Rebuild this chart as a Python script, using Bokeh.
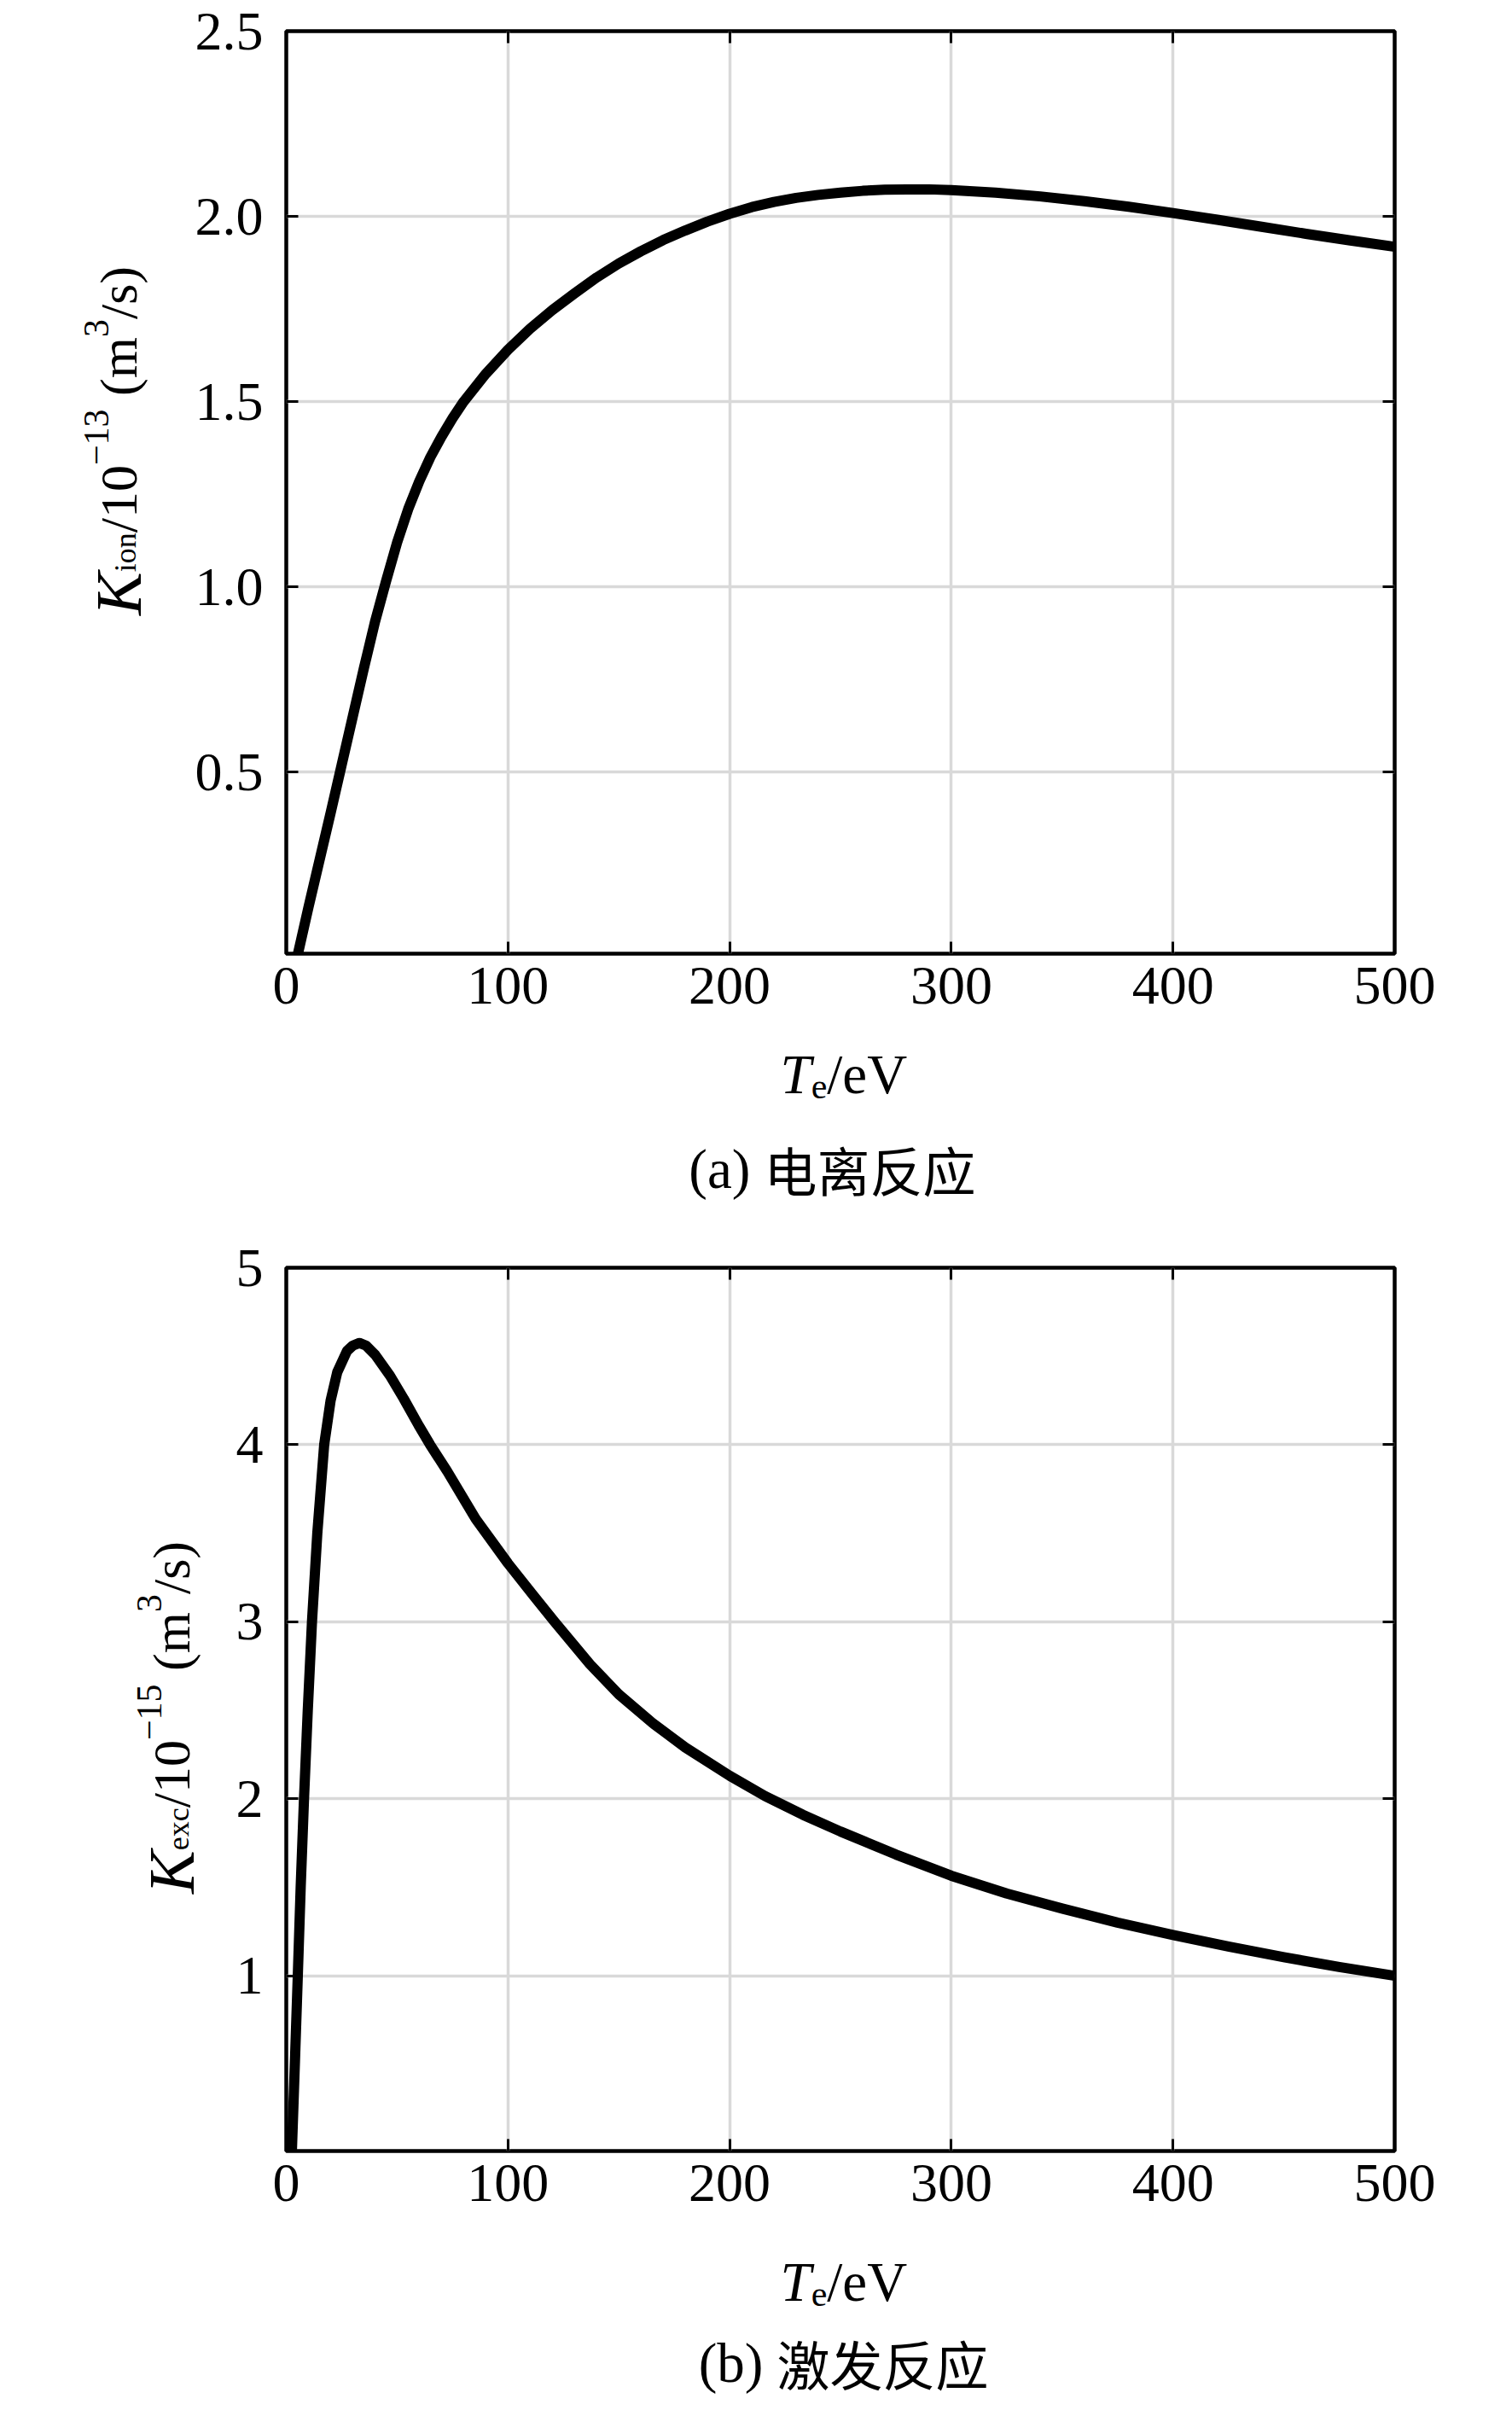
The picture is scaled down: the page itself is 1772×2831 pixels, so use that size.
import math
from bokeh.plotting import figure
from bokeh.models import Range1d, FixedTicker, LinearAxis, PrintfTickFormatter
from bokeh.layouts import column, row
from bokeh.core.properties import value
from bokeh.embed import file_html
from bokeh.resources import INLINE

# ---------------- data ----------------
te_ion = [4.9, 10, 15.3, 20, 25, 30, 35, 40, 45, 50, 55, 60, 65, 70, 75, 80, 90,
          100, 110, 120, 130, 140, 150, 160, 170, 180, 190, 200, 210, 220, 230,
          240, 250, 260, 270, 280, 290, 300, 320, 340, 360, 380, 400, 420, 440,
          460, 480, 500]
k_ion = [0.0, 0.135, 0.27, 0.39, 0.52, 0.65, 0.78, 0.905, 1.015, 1.12, 1.21,
         1.285, 1.35, 1.405, 1.455, 1.50, 1.575, 1.64, 1.697, 1.747, 1.792,
         1.835, 1.873, 1.906, 1.936, 1.962, 1.986, 2.007, 2.025, 2.039, 2.05,
         2.058, 2.064, 2.069, 2.072, 2.073, 2.073, 2.071, 2.064, 2.054, 2.041,
         2.026, 2.009, 1.991, 1.972, 1.953, 1.935, 1.918]

te_exc = [2.5, 4, 5.2, 6.5, 8, 9.7, 11.6, 14, 17.1, 20, 23, 27.4, 30, 33, 36,
          40, 46.8, 53, 59.7, 64.9, 72.6, 85.5, 100, 111.4, 121, 137, 150, 165,
          180, 200, 216, 233, 250, 275, 300, 325, 350, 375, 400, 425, 450, 475,
          500]
k_exc = [0.0, 0.55, 1.0, 1.5, 2.0, 2.5, 3.0, 3.5, 4.0, 4.25, 4.41, 4.53, 4.56,
         4.575, 4.56, 4.51, 4.39, 4.26, 4.11, 4.0, 3.85, 3.58, 3.33, 3.15, 3.0,
         2.76, 2.59, 2.43, 2.29, 2.13, 2.015, 1.91, 1.815, 1.685, 1.565, 1.465,
         1.38, 1.30, 1.23, 1.165, 1.105, 1.05, 1.0]

x_ticks = [0, 100, 200, 300, 400, 500]
ion_ticks = [0.5, 1.0, 1.5, 2.0, 2.5]
exc_ticks = [1, 2, 3, 4, 5]

caption_a = ("(a)", "电离反应")
caption_b = ("(b)", "激发反应")

SERIF = "Liberation Serif"
CJK = "Noto Sans CJK SC"

# Times / Liberation Serif advance widths (per 1000 em)
W = {' ': 250, '(': 333, ')': 333, '/': 278, '.': 250, 'a': 444, 'b': 500,
     'c': 444, 'e': 444, 'i': 278, 'm': 778, 'n': 500, 'o': 500, 's': 389,
     'x': 500, 'V': 722, '\u2212': 564, 'K': 667, 'T': 556}


def adv(s, size):
    return sum(W.get(c, 500) for c in s) * size / 1000.0


FRAME_W = 1299
RIGHT_B = 122
BOTTOM_B = 100
PAGE_L = 8
# measured drift of the alphabetic baseline of text glyphs (page px)
DROP = 29
ALONG = 40


def text_canvas(w, h):
    f = figure(frame_width=w, frame_height=h, min_border=0,
               x_range=Range1d(0, w), y_range=Range1d(0, h),
               output_backend="svg", toolbar_location=None,
               x_axis_location=None, y_axis_location=None)
    f.outline_line_color = None
    f.background_fill_color = "white"
    f.border_fill_color = "white"
    for g in f.grid:
        g.visible = False
    return f


def put(f, x, y, text, size, style="normal", font=SERIF, angle=0.0, align="left"):
    f.text(x=[x], y=[y], text=[text], angle=angle,
           text_font=value(font), text_font_size=value(f"{size}px"),
           text_font_style=style, text_color="black",
           text_align=align, text_baseline="alphabetic")


def main_panel(xs, ys, y0, y1, yticks, yfmt, left_b, top, fh):
    p = figure(frame_width=FRAME_W, frame_height=fh,
               min_border_left=left_b, min_border_right=RIGHT_B,
               min_border_top=top, min_border_bottom=BOTTOM_B,
               x_range=Range1d(0, 500), y_range=Range1d(y0, y1),
               output_backend="svg", toolbar_location=None,
               x_axis_location=None, y_axis_location=None)
    p.background_fill_color = "white"
    p.border_fill_color = "white"
    p.outline_line_color = "black"
    p.outline_line_width = 4.5
    for loc in ("below", "left", "above", "right"):
        horiz = loc in ("below", "above")
        ax = LinearAxis(ticker=FixedTicker(ticks=x_ticks if horiz else yticks))
        ax.axis_line_color = None
        ax.major_tick_in = 14
        ax.major_tick_out = 0
        ax.major_tick_line_width = 3
        ax.major_tick_line_color = "black"
        ax.minor_tick_line_color = None
        if loc in ("below", "left"):
            ax.major_label_text_font = SERIF
            ax.major_label_text_font_size = "64px"
            ax.major_label_text_color = "black"
            ax.major_label_standoff = 16 if horiz else 27
            if not horiz:
                ax.formatter = PrintfTickFormatter(format=yfmt)
        else:
            ax.major_label_text_font_size = "0px"
            ax.major_label_text_alpha = 0
            ax.major_label_standoff = 0
        p.add_layout(ax, loc)
    p.xgrid.ticker = FixedTicker(ticks=x_ticks)
    p.ygrid.ticker = FixedTicker(ticks=yticks)
    p.grid.grid_line_color = "#d9d9d9"
    p.grid.grid_line_width = 3.5
    p.line(xs, ys, line_color="black", line_width=12, line_join="round",
           line_cap="round")
    return p


def panel(xs, ys, y0, y1, yticks, yfmt, page_top, top, fh, left_b,
          ylab_segs, ylab_base, ylab_center, xlab_base, cap, cap_left, cap_base,
          page_bottom):
    p = main_panel(xs, ys, y0, y1, yticks, yfmt, left_b, top, fh)
    main_h = top + fh + BOTTOM_B
    fig_bottom = page_top + main_h

    # left strip with the composed, rotated y-axis label
    lw = 343 - PAGE_L - left_b
    lf = text_canvas(lw, main_h)
    total = sum(adv(t, s) + g for t, s, st, sh, g in ylab_segs)
    pos = ylab_center - ALONG + total / 2.0
    for text, size, style, shift, gap in ylab_segs:
        pos -= gap
        put(lf, ylab_base - DROP + shift - PAGE_L, fig_bottom - pos, text, size,
            style, angle=math.pi / 2)
        pos -= adv(text, size)

    # bottom strip: x-axis label and caption
    bh = page_bottom - fig_bottom
    bf = text_canvas(lw + left_b + FRAME_W + RIGHT_B, bh)
    px = 922
    for text, size, style, shift in [("T", 65, "italic", 0), ("e", 42, "normal", 14),
                                     ("/eV", 65, "normal", 0)]:
        put(bf, px - PAGE_L, page_bottom - (xlab_base - DROP + shift), text, size, style)
        px += adv(text, size)
    cy = page_bottom - (cap_base - DROP)
    put(bf, cap_left - 16 - PAGE_L, cy, cap[0], 65, align="right")
    put(bf, cap_left - PAGE_L, cy, cap[1], 62, font=CJK)

    return column(row(lf, p, spacing=0), bf, spacing=0)


segs_a = [("K", 76, "italic", 0, 0), ("ion", 36, "normal", 8, 0),
          ("/10", 62, "normal", 0, 0), ("\u221213", 42, "normal", -26, 0),
          ("(m", 62, "normal", 0, adv(" ", 62)), ("3", 42, "normal", -26, 0),
          ("/s)", 62, "normal", 0, 0)]
segs_b = [("K", 76, "italic", 0, 0), ("exc", 36, "normal", 8, 0),
          ("/10", 62, "normal", 0, 0), ("\u221215", 42, "normal", -26, 0),
          ("(m", 62, "normal", 0, adv(" ", 62)), ("3", 42, "normal", -26, 0),
          ("/s)", 62, "normal", 0, 0)]

# panel (a): page rows 8 .. 1448 ; panel (b): 1448 .. 2822 (page fits the window)
pa = panel(te_ion, k_ion, 0.01, 2.5, ion_ticks, "%.1f", 8, 36, 1081, 135,
           segs_a, 175, 528, 1295, caption_a, 903, 1406, 1448)
pb = panel(te_exc, k_exc, 0.01, 5.0, exc_ticks, "%d", 1448, 45, 1035, 85,
           segs_b, 237, 2015, 2710, caption_b, 918, 2805, 2822)

layout = column(pa, pb, spacing=0)
open("out.html", "w").write(file_html(layout, INLINE))
